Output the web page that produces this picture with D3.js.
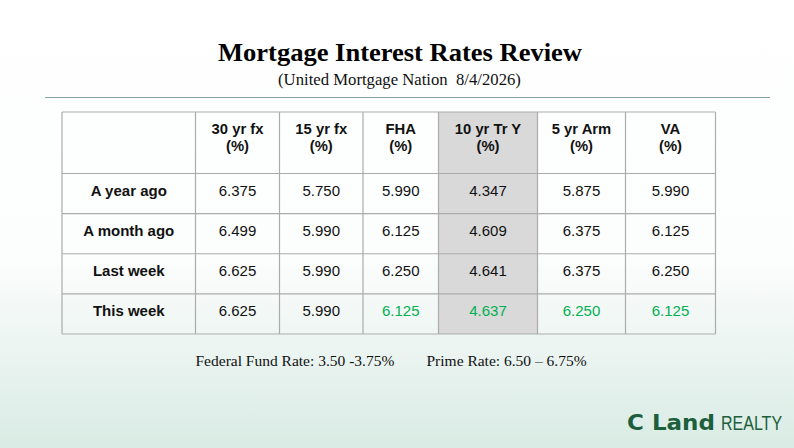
<!DOCTYPE html>
<html>
<head>
<meta charset="utf-8">
<script src="https://cdn.jsdelivr.net/npm/d3@7"></script>
<style>
  html, body { margin: 0; padding: 0; }
  body { width: 794px; height: 448px; overflow: hidden; }
  text { white-space: pre; }
</style>
</head>
<body>
<div id="chart"></div>
<script>
// Table content
const columns = ['30 yr fx', '15 yr fx', 'FHA', '10 yr Tr Y', '5 yr Arm', 'VA'];
const rowLabels = ['A year ago', 'A month ago', 'Last week', 'This week'];
const yearAgo  = ['6.375', '5.750', '5.990', '4.347', '5.875', '5.990'];
const monthAgo = ['6.499', '5.990', '6.125', '4.609', '6.375', '6.125'];
const lastWeek = ['6.625', '5.990', '6.250', '4.641', '6.375', '6.250'];
const thisWeek = ['6.625', '5.990', '6.125', '4.637', '6.250', '6.125'];
const highlightColumn = '10 yr Tr Y';

const title = 'Mortgage Interest Rates Review';
const subtitle = '(United Mortgage Nation  8/4/2026)';
const footnotes = ['Federal Fund Rate: 3.50 -3.75%', 'Prime Rate: 6.50 \u2013 6.75%'];

const width = 794, height = 448;
const table = {left: 62, top: 112, headerBottom: 173.5, bottom: 334};
const colWidths = [133.5, 84, 83.5, 75.5, 99, 88, 90];  // label column + data columns

const values = [yearAgo, monthAgo, lastWeek, thisWeek];

const svg = d3.select('#chart').append('svg')
    .attr('width', width)
    .attr('height', height);

// Background gradient
const grad = svg.append('defs').append('linearGradient')
    .attr('id', 'bg')
    .attr('x1', 0).attr('y1', 0).attr('x2', 0).attr('y2', 1);
grad.append('stop').attr('offset', '0%').attr('stop-color', '#ffffff');
grad.append('stop').attr('offset', '58%').attr('stop-color', '#fcfdfd');
grad.append('stop').attr('offset', '100%').attr('stop-color', '#d9ebe4');
svg.append('rect')
    .attr('width', width).attr('height', height)
    .attr('fill', 'url(#bg)');

// Title block
svg.append('text')
    .attr('x', 400).attr('y', 61)
    .attr('text-anchor', 'middle')
    .attr('textLength', 364)
    .attr('lengthAdjust', 'spacingAndGlyphs')
    .style('font-family', '"Liberation Serif", "Times New Roman", serif')
    .style('font-weight', 'bold')
    .style('font-size', '25.5px')
    .attr('fill', '#000')
    .text(title);

svg.append('text')
    .attr('x', 399.5).attr('y', 85)
    .attr('text-anchor', 'middle')
    .style('font-family', '"Liberation Serif", "Times New Roman", serif')
    .style('font-size', '16.7px')
    .attr('fill', '#111')
    .text(subtitle);

svg.append('line')
    .attr('x1', 45).attr('x2', 770)
    .attr('y1', 97.5).attr('y2', 97.5)
    .attr('stroke', '#86a2a9')
    .attr('stroke-width', 1.2);

// Column scale: ordinal from key to left edge
const colKeys = ['label'].concat(columns);
const edges = d3.cumsum([table.left].concat(colWidths));
const xLeft = d3.scaleOrdinal().domain(colKeys).range(edges.slice(0, -1));
const xWidth = d3.scaleOrdinal().domain(colKeys).range(colWidths);
const xMid = k => xLeft(k) + xWidth(k) / 2;

const y = d3.scaleBand()
    .domain(rowLabels)
    .range([table.headerBottom, table.bottom]);

const g = svg.append('g');

// Highlighted column fill
g.append('rect')
    .attr('x', xLeft(highlightColumn))
    .attr('y', table.top)
    .attr('width', xWidth(highlightColumn))
    .attr('height', table.bottom - table.top)
    .attr('fill', '#d9d9d9');

// Grid lines
const gridColor = '#ababab';
g.selectAll('.vline')
    .data(edges)
  .join('line')
    .attr('class', 'vline')
    .attr('x1', d => d).attr('x2', d => d)
    .attr('y1', table.top).attr('y2', table.bottom)
    .attr('stroke', gridColor)
    .attr('stroke-width', 1.2);

const hEdges = [table.top].concat(rowLabels.map(r => y(r)), [table.bottom]);
g.selectAll('.hline')
    .data(hEdges)
  .join('line')
    .attr('class', 'hline')
    .attr('x1', table.left).attr('x2', edges[edges.length - 1])
    .attr('y1', d => d).attr('y2', d => d)
    .attr('stroke', gridColor)
    .attr('stroke-width', 1.2);

// Header text
const headerMid = (table.top + table.headerBottom) / 2;
const header = g.selectAll('.header')
    .data(columns)
  .join('text')
    .attr('class', 'header')
    .attr('text-anchor', 'middle')
    .style('font-family', '"Liberation Sans", Arial, sans-serif')
    .style('font-weight', 'bold')
    .style('font-size', '14.8px')
    .attr('fill', '#111');
header.append('tspan')
    .attr('x', d => xMid(d))
    .attr('y', headerMid - 8.5)
    .text(d => d);
header.append('tspan')
    .attr('x', d => xMid(d))
    .attr('y', headerMid + 8.5)
    .text('(%)');

// Row labels
g.selectAll('.rowlabel')
    .data(rowLabels)
  .join('text')
    .attr('class', 'rowlabel')
    .attr('x', xMid('label'))
    .attr('y', d => y(d) + y.bandwidth() / 2 + 2.5)
    .attr('text-anchor', 'middle')
    .style('font-family', '"Liberation Sans", Arial, sans-serif')
    .style('font-weight', 'bold')
    .style('font-size', '15px')
    .attr('fill', '#111')
    .text(d => d);

// Cells: this week's value turns green when it dropped vs last week
const cells = [];
rowLabels.forEach((r, i) => {
  columns.forEach((c, j) => {
    const down = r === 'This week' && +values[i][j] < +lastWeek[j];
    cells.push({row: r, col: c, value: values[i][j], down: down});
  });
});

g.selectAll('.cell')
    .data(cells)
  .join('text')
    .attr('class', 'cell')
    .attr('x', d => xMid(d.col))
    .attr('y', d => y(d.row) + y.bandwidth() / 2 + 2.5)
    .attr('text-anchor', 'middle')
    .style('font-family', '"Liberation Sans", Arial, sans-serif')
    .style('font-size', '15px')
    .attr('fill', d => d.down ? '#00b050' : '#111')
    .text(d => d.value);

// Footnotes
svg.selectAll('.foot')
    .data(footnotes)
  .join('text')
    .attr('class', 'foot')
    .attr('x', (d, i) => i === 0 ? 195.5 : 426.5)
    .attr('y', 366)
    .style('font-family', '"Liberation Serif", "Times New Roman", serif')
    .style('font-size', '15.5px')
    .attr('fill', '#111')
    .text(d => d);

// Logo
svg.append('text')
    .attr('x', 627).attr('y', 430)
    .attr('textLength', 88)
    .attr('lengthAdjust', 'spacingAndGlyphs')
    .attr('fill', '#1d5e3c')
    .style('font-family', '"DejaVu Sans", Arial, sans-serif')
    .style('font-weight', 'bold')
    .style('font-size', '21px')
    .text('C Land');
// narrow wordmark: squeeze regular sans horizontally
svg.append('text')
    .attr('transform', 'translate(721,430) scale(0.8,1)')
    .attr('fill', '#1d5e3c')
    .style('font-family', '"Liberation Sans", Arial, sans-serif')
    .style('font-size', '20px')
    .text('REALTY');
</script>
</body>
</html>
